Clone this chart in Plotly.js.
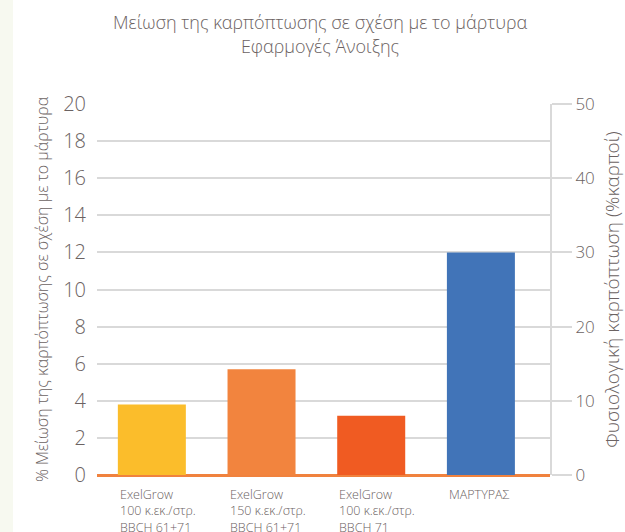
<!DOCTYPE html>
<html>
<head>
<meta charset="utf-8">
<script src="https://cdn.plot.ly/plotly-3.0.1.min.js"></script>
<style>
html,body{margin:0;padding:0;background:#ffffff;}
#strip{position:absolute;left:0;top:0;width:13px;height:532px;background:#f7f9f0;}
#chart{position:absolute;left:0;top:0;width:625px;height:532px;}
</style>
</head>
<body>
<div id="strip"></div>
<div id="chart"></div>
<script>
const categories = ["c1", "c2", "c3", "c4"];
const categoryLabels = [
  "ExelGrow<br>100 κ.εκ./στρ.<br>BBCH 61+71",
  "ExelGrow<br>150 κ.εκ./στρ.<br>BBCH 61+71",
  "ExelGrow<br>100 κ.εκ./στρ.<br>BBCH 71",
  "ΜΑΡΤΥΡΑΣ"
];
const reductionCats = ["c1", "c2", "c3"];
const reductionValues = [3.8, 5.7, 3.2];
const controlCats = ["c4"];
const controlValues = [30];
const barColors = ["#fbbd2b", "#f2843e", "#f05b22"];
const controlColor = "#4174b8";
const leftTicks = [0, 2, 4, 6, 8, 10, 12, 14, 16, 18, 20];
const rightTicks = [0, 10, 20, 30, 40, 50];

const fontFam = "Open Sans, Noto Sans, DejaVu Sans, sans-serif";
const txt = "#6b6262";

const traces = [
  {type: "bar", x: reductionCats, y: reductionValues, yaxis: "y", width: 0.62,
   marker: {color: barColors}, hoverinfo: "none"},
  {type: "bar", x: controlCats, y: controlValues, yaxis: "y2", width: 0.62,
   marker: {color: controlColor}, hoverinfo: "none"}
];

const annotations = categories.map((c, i) => ({
  x: c, xref: "x", y: 0, yref: "paper", xanchor: "left", yanchor: "top",
  xshift: -34, yshift: -9, align: "left", showarrow: false,
  text: categoryLabels[i], font: {family: fontFam, size: 12.5, color: txt, weight: 300}
}));

const layout = {
  width: 625, height: 532,
  paper_bgcolor: "rgba(0,0,0,0)", plot_bgcolor: "#ffffff",
  margin: {l: 97, r: 75, t: 104, b: 57},
  showlegend: false,
  barmode: "overlay",
  title: {text: "Μείωση της καρπόπτωσης σε σχέση με το μάρτυρα<br>Εφαρμογές Άνοιξης",
          x: 0.512, xanchor: "center", y: 0.945, yanchor: "top",
          font: {family: fontFam, size: 18, color: txt, weight: 300}},
  xaxis: {type: "category", categoryarray: categories, range: [-0.5, 3.63],
          showticklabels: false, showgrid: false, zeroline: false, showline: false, ticks: ""},
  yaxis: {range: [0, 20], tickvals: leftTicks, showgrid: true, gridcolor: "#d9d9d9", gridwidth: 2,
          zeroline: true, zerolinecolor: "#f0823e", zerolinewidth: 3,
          showline: false, ticks: "", ticklabelstandoff: 10,
          tickfont: {family: fontFam, size: 20, color: txt, weight: 300},
          title: {text: "% Μείωση της καρπόπτωσης σε σχέση με το μάρτυρα", standoff: 10,
                  font: {family: fontFam, size: 16, color: txt, weight: 300}}},
  yaxis2: {range: [0, 50], tickvals: rightTicks, overlaying: "y", side: "right",
           showgrid: false, zeroline: false, showline: true, linecolor: "#d9d9d9", linewidth: 2,
           ticks: "outside", ticklen: 20, tickcolor: "#d9d9d9", tickwidth: 2,
           tickfont: {family: fontFam, size: 17, color: txt, weight: 300},
           title: {text: "Φυσιολογική καρπόπτωση (%καρποί)", standoff: 14,
                   font: {family: fontFam, size: 19, color: txt, weight: 300}}},
  annotations: annotations
};

Plotly.newPlot("chart", traces, layout, {displayModeBar: false, staticPlot: true});
</script>
</body>
</html>
